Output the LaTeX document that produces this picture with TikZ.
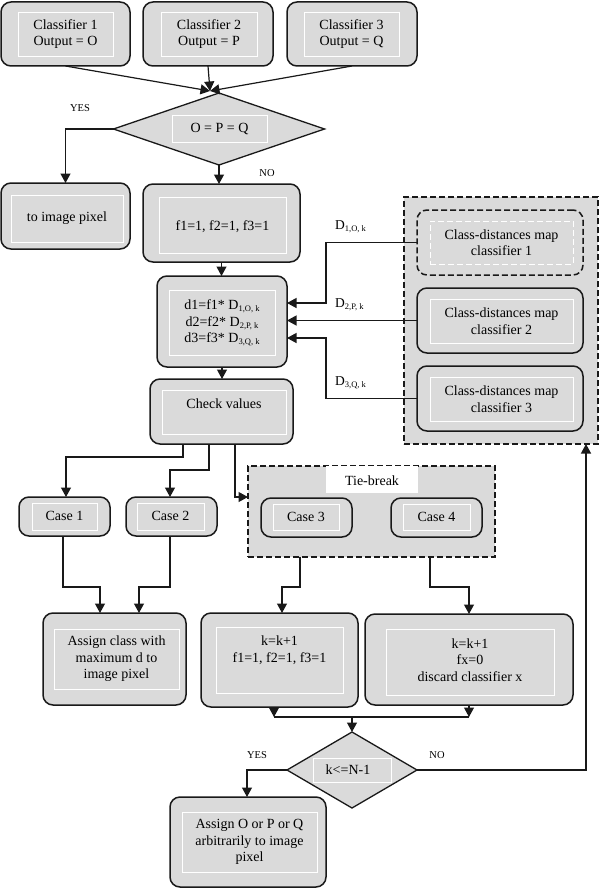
\documentclass[tikz,border=0pt]{standalone}
\usepackage{fontspec}
\setmainfont{Liberation Serif}
\usetikzlibrary{arrows.meta,shapes.geometric}
\definecolor{bg}{RGB}{218,218,218}
\definecolor{ln}{RGB}{25,25,25}
\newcommand\Dsub[1]{D\raisebox{-0.3ex}{\fontsize{8.5}{9}\selectfont #1}}
\begin{document}
\begin{tikzpicture}[x=1pt,y=-1pt,
 obox/.style={draw=ln, line width=1.5pt, fill=bg, rounded corners=10pt, inner sep=0pt, outer sep=0pt},
 ibox/.style={draw=white, line width=0.9pt, inner sep=0pt, outer sep=0pt},
 dobox/.style={obox, dash pattern=on 6pt off 3pt},
 dibox/.style={ibox, dash pattern=on 6pt off 3pt},
 contbox/.style={draw=ln, line width=1.3pt, fill=bg, dash pattern=on 6pt off 3pt, inner sep=0pt, outer sep=0pt},
 dia/.style={diamond, draw=ln, line width=1.3pt, fill=bg, inner sep=0pt, outer sep=0pt},
 txt/.style={font=\fontsize{14}{16.5}\selectfont, align=center, inner sep=0pt},
 lab/.style={font=\fontsize{10.5}{12}\selectfont, inner sep=0pt},
 dlab/.style={font=\fontsize{13.5}{15}\selectfont, inner sep=0pt, anchor=west},
 arr/.style={draw=ln, line width=1.2pt, -{Triangle[length=9.5pt,width=10pt]}},
 cl/.style={draw=ln, line width=1.2pt}]
\useasboundingbox[fill=white] (0,0) rectangle (600,888);

% top classifiers
\node[obox, minimum width=129pt, minimum height=64pt] (c1) at (65.5,34) {};
\node[ibox, minimum width=95pt, minimum height=44pt] (c1i) at (65.5,34) {};
\node[txt] (c1t) at (65.5,34) {Classifier 1\\Output = O};
\node[obox, minimum width=130pt, minimum height=64pt] (c2) at (208,34) {};
\node[ibox, minimum width=96pt, minimum height=44pt] (c2i) at (209,34) {};
\node[txt] (c2t) at (209,34) {Classifier 2\\Output = P};
\node[obox, minimum width=130pt, minimum height=64pt] (c3) at (352,34) {};
\node[ibox, minimum width=95pt, minimum height=44pt] (c3i) at (351.5,34) {};
\node[txt] (c3t) at (351.5,34) {Classifier 3\\Output = Q};

% decision 1
\node[dia, minimum width=211pt, minimum height=72pt] (dm1) at (219,129) {};
\node[ibox, minimum width=95pt, minimum height=27pt] (dm1i) at (219.5,128.5) {};
\node[txt] (dm1t) at (219.5,128.5) {O = P = Q};

% to image pixel
\node[obox, minimum width=129pt, minimum height=66pt] (ti) at (65.5,216) {};
\node[ibox, minimum width=112pt, minimum height=47pt] (tii) at (67,218.5) {};
\node[txt] (tit) at (67,218) {to image pixel};

% f box
\node[obox, minimum width=157pt, minimum height=78pt] (fb) at (221.5,223) {};
\node[ibox, minimum width=127pt, minimum height=56pt] (fbi) at (222.5,225) {};
\node[txt] (fbt) at (222.5,227) {f1=1, f2=1, f3=1};

% d box
\node[obox, minimum width=130pt, minimum height=91pt] (db) at (222,321.5) {};
\node[ibox, minimum width=106pt, minimum height=65pt] (dbi) at (222,322.5) {};
\node[txt] (dbt) at (222,323) {d1=f1* \Dsub{1,O, k}\\d2=f2* \Dsub{2,P, k}\\d3=f3* \Dsub{3,Q, k}};

% right container
\node[contbox, minimum width=194pt, minimum height=247pt] (rc) at (501,320.5) {};
\node[dobox, minimum width=166pt, minimum height=65pt] (cd1) at (500,242.5) {};
\node[dibox, minimum width=143pt, minimum height=43pt] (cd1i) at (501.5,242.5) {};
\node[txt] (cd1t) at (501.5,242.5) {Class-distances map\\classifier 1};
\node[obox, minimum width=166pt, minimum height=65pt] (cd2) at (500,320.5) {};
\node[ibox, minimum width=143pt, minimum height=44pt] (cd2i) at (501.5,321) {};
\node[txt] (cd2t) at (501.5,321) {Class-distances map\\classifier 2};
\node[obox, minimum width=166pt, minimum height=65pt] (cd3) at (500,398.5) {};
\node[ibox, minimum width=143pt, minimum height=44pt] (cd3i) at (501.5,399) {};
\node[txt] (cd3t) at (501.5,399) {Class-distances map\\classifier 3};

% check values
\node[obox, minimum width=143pt, minimum height=65pt] (ck) at (221.5,411.5) {};
\node[ibox, minimum width=124pt, minimum height=44pt] (cki) at (224,412) {};
\node[txt] (ckt) at (224,404) {Check values};

% cases 1, 2
\node[obox, minimum width=91pt, minimum height=39pt] (cs1) at (64.5,516.5) {};
\node[ibox, minimum width=65pt, minimum height=27pt] (cs1i) at (64.5,516.5) {};
\node[txt] (cs1t) at (64.5,516) {Case 1};
\node[obox, minimum width=91pt, minimum height=39pt] (cs2) at (171.5,516.5) {};
\node[ibox, minimum width=67pt, minimum height=27pt] (cs2i) at (170.5,516.5) {};
\node[txt] (cs2t) at (170.5,516) {Case 2};

% tie-break
\node[contbox, minimum width=247pt, minimum height=91pt] (tb) at (371.5,511.5) {};
\node[fill=white, minimum width=92pt, minimum height=27pt, inner sep=0pt, outer sep=0pt] (tbh) at (372,479.5) {};
\node[txt] (tbt) at (372,481) {Tie-break};
\node[obox, minimum width=91pt, minimum height=39pt] (cs3) at (306.5,517.5) {};
\node[ibox, minimum width=66pt, minimum height=26pt] (cs3i) at (306,517) {};
\node[txt] (cs3t) at (306,517) {Case 3};
\node[obox, minimum width=91pt, minimum height=39pt] (cs4) at (436.5,517.5) {};
\node[ibox, minimum width=67pt, minimum height=26pt] (cs4i) at (436.5,517) {};
\node[txt] (cs4t) at (436.5,517) {Case 4};

% assign class
\node[obox, minimum width=143pt, minimum height=92pt] (as) at (114.5,659) {};
\node[ibox, minimum width=125pt, minimum height=60pt] (asi) at (116.5,659) {};
\node[txt] (ast) at (116.5,659) {Assign class with\\maximum d to\\image pixel};

% k boxes
\node[obox, minimum width=157pt, minimum height=94pt] (k1) at (279.5,660) {};
\node[ibox, minimum width=127pt, minimum height=66pt] (k1i) at (279.5,660) {};
\node[txt] (k1t) at (279.5,650) {k=k+1\\f1=1, f2=1, f3=1};
\node[obox, minimum width=208pt, minimum height=91pt] (k2) at (469,659.5) {};
\node[ibox, minimum width=168pt, minimum height=66pt] (k2i) at (470,662) {};
\node[txt] (k2t) at (470,660) {k=k+1\\fx=0\\discard classifier x};

% decision 2
\node[dia, minimum width=130pt, minimum height=76pt] (dm2) at (352,770) {};
\node[ibox, minimum width=78pt, minimum height=24pt] (dm2i) at (352,770) {};
\node[txt] (dm2t) at (348,770) {k<=N-1};

% final assign
\node[obox, minimum width=156pt, minimum height=90pt] (a2) at (248,842) {};
\node[ibox, minimum width=135pt, minimum height=60pt] (a2i) at (249.5,842) {};
\node[txt] (a2t) at (249.5,842) {Assign O or P or Q\\arbitrarily to image\\pixel};

% labels
\node[lab] (y1) at (80,108) {YES};
\node[lab] (n1) at (267,173) {NO};
\node[lab] (y2) at (257,755) {YES};
\node[lab] (n2) at (437,755) {NO};
\node[dlab] (l1) at (335,227) {\Dsub{1,O, k}};
\node[dlab] (l2) at (335,305) {\Dsub{2,P, k}};
\node[dlab] (l3) at (335,383) {\Dsub{3,Q, k}};

% helper coordinates
\coordinate (tip) at (210,91);
\coordinate (r1) at (0,303);
\coordinate (r3) at (0,338);
\coordinate (bx) at (326,0);
\coordinate (h1) at (0,457);
\coordinate (h2) at (0,470);
\coordinate (h3) at (0,497);
\coordinate (h4) at (0,587);
\coordinate (h5) at (0,717);
\coordinate (xr) at (586,0);

% connectors
\draw[arr] (c1.south) -- (tip);
\draw[arr] (c2.south) -- (tip);
\draw[arr] (c3.south) -- (tip);
\draw[arr] (dm1.west) -| (ti.north);
\draw[arr] (dm1.south) -- (dm1.south |- fb.north);
\draw[arr] (fb.south) -- (fb.south |- db.north);
\draw[arr] (db.south) -- (db.south |- ck.north);
\draw[arr] (cd1.west) -| (bx |- r1) -- (db.east |- r1);
\draw[arr] (cd2.west) -- (db.east |- cd2.west);
\draw[arr] (cd3.west) -| (bx |- r3) -- (db.east |- r3);

\draw[arr] ([xshift=-38.5pt]ck.south) |- ([xshift=1.5pt]cs1.north |- h1) -- ([xshift=1.5pt]cs1.north);
\draw[arr] ([xshift=-12.5pt]ck.south) |- ([xshift=-1.5pt]cs2.north |- h2) -- ([xshift=-1.5pt]cs2.north);
\draw[arr] ([xshift=13.5pt]ck.south) |- (tb.west |- h3);

\draw[arr] ([xshift=-1.5pt]cs1.south) |- ([xshift=-14.5pt]as.north |- h4) -- ([xshift=-14.5pt]as.north);
\draw[arr] ([xshift=-1.5pt]cs2.south) |- ([xshift=24.5pt]as.north |- h4) -- ([xshift=24.5pt]as.north);
\draw[arr] ([xshift=-71.5pt]tb.south) |- ([xshift=2.5pt]k1.north |- h4) -- ([xshift=2.5pt]k1.north);
\draw[arr] ([xshift=58.5pt]tb.south) |- (k2.north |- h4) -- (k2.north);

\draw[arr] ([xshift=-5.5pt]k1.south) -- ([xshift=-5.5pt]k1.south |- h5);
\draw[arr] (k2.south) -- (k2.south |- h5);
\draw[cl] ([xshift=-5.5pt]k1.south |- h5) -- (k2.south |- h5);
\draw[arr] (dm2.north |- h5) -- (dm2.north);
\draw[arr] (dm2.west) -| ([xshift=-1pt]a2.north);
\draw[arr] (dm2.east) -| (xr |- rc.south);
\end{tikzpicture}
\end{document}
